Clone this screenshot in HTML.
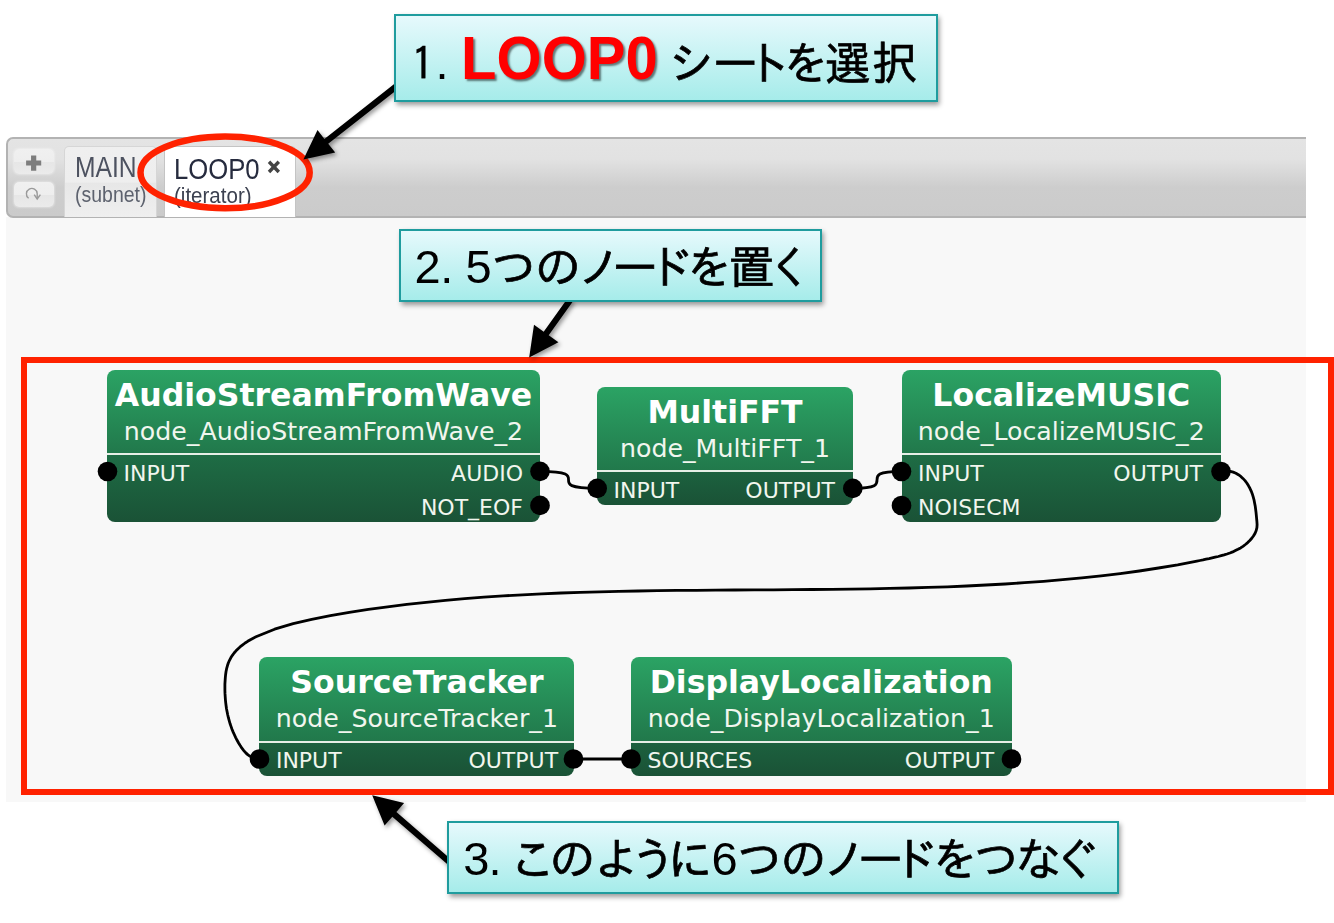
<!DOCTYPE html>
<html lang="ja">
<head>
<meta charset="utf-8">
<title>LOOP0 シート</title>
<style>
*{box-sizing:border-box;margin:0;padding:0}
html,body{width:1334px;height:923px;overflow:hidden;background:#fff}
body{position:relative;font-family:"Liberation Sans","Noto Sans CJK JP",sans-serif}
.abs{position:absolute}
#canvas{left:6px;top:217px;width:1300px;height:585px;background:#f8f8f8}
#tabbar{left:6px;top:137px;width:1300px;height:81px;border:2px solid #b3b3b3;border-right:none;border-radius:7px 0 0 7px;
 background:linear-gradient(#e4e4e4 0%,#e2e2e2 26%,#cdcdcd 63%,#cbcbcb 100%)}
.btn{left:14px;width:40px;height:25px;border-radius:5px;background:linear-gradient(#f0f0f0 0%,#eeeeee 50%,#e6e6e6 52%,#ebebeb 100%);
 box-shadow:0 0 2px 1px rgba(255,255,255,.35)}
.tab{top:146px;height:71px;border-radius:5px 5px 0 0}
#tab1{left:64px;width:93px;background:linear-gradient(#efefef 0%,#eeeeee 50%,#e7e7e7 52%,#efefef 100%);border:1px solid #d6d6d6;border-bottom:none}
#tab2{left:164px;width:132px;background:#fff;border:1px solid #c4c4c4;border-bottom:none}
.tt{white-space:nowrap;transform-origin:0 0;line-height:1}
.node{border-radius:8px;background:linear-gradient(#2ba364 0,#21784b var(--s,84px),var(--b,#1e6d45) var(--s,84px),#1a5236 100%);color:#fff;font-family:"DejaVu Sans","Liberation Sans",sans-serif}
.node .t{position:absolute;left:0;right:0;text-align:center;font-weight:bold;font-size:31.55px;line-height:1;white-space:nowrap;top:9.5px}
.node .s{position:absolute;left:0;right:0;text-align:center;font-size:25.25px;line-height:1;white-space:nowrap;top:48.5px;color:#f1f6ee}
.node .sep{position:absolute;left:0;right:0;top:83px;height:1.6px;background:#e6efe6}
.node .p{position:absolute;font-size:22px;line-height:1;white-space:nowrap;color:#f1f6ee}
.node .l{left:16.5px}
.node .r{right:18px}
.call{border:2px solid #1f9c9e;background:linear-gradient(#e6f9fc 0%,#a6ecea 100%);box-shadow:1.5px 3px 5px rgba(0,0,0,.4);white-space:nowrap;color:#000}
.call .ln{position:absolute;left:0;will-change:transform;font:47px/47px "Liberation Sans","Noto Sans CJK JP",sans-serif;white-space:nowrap}
.call .ln span{line-height:0}
.call .j{font-family:"IPAGothic","Noto Sans CJK JP",sans-serif;font-size:46px;-webkit-text-stroke:.7px #000;position:relative;top:.5px}
.call .big{display:inline-block;font-size:58px;font-weight:bold;color:#ff0000;text-shadow:2px 2px 2px rgba(0,0,0,.5);transform-origin:0 20.1px;transform:scaleY(1.053)}
svg{position:absolute;left:0;top:0}
</style>
</head>
<body>
<div id="canvas" class="abs"></div>
<div id="tabbar" class="abs"></div>
<div class="abs btn" style="top:149px"></div>
<div class="abs btn" style="top:182px"></div>
<div id="tab1" class="abs tab"></div>
<div id="tab2" class="abs tab"></div>
<div class="abs tt" style="left:74.5px;top:152.3px;font-size:30px;color:#4d5260;transform:scaleX(.82)">MAIN</div>
<div class="abs tt" style="left:74.5px;top:183.5px;font-size:22px;color:#5d626e;transform:scaleX(.885)">(subnet)</div>
<div class="abs tt" style="left:173.5px;top:153.8px;font-size:30px;color:#262b3e;transform:scaleX(.855)">LOOP0</div>
<div class="abs tt" style="left:174px;top:185.3px;font-size:22px;color:#3c4150;transform:scaleX(.933)">(iterator)</div>
<svg width="60" height="80" viewBox="0 0 60 80" style="left:0;top:140px">
 <path d="M26.1 23 H41.2 M33.65 15.4 V30.7" stroke="#7d7d7d" stroke-width="5.2" fill="none"/>
 <path d="M28.6 58.2 A5.4 5.4 0 1 1 37.2 53.6 V58.6" stroke="#9a9a9a" stroke-width="1.4" fill="none"/>
 <path d="M34.2 54.6 L37.2 59 L40.4 54.6" stroke="#9a9a9a" stroke-width="1.4" fill="none"/>
</svg>
<svg width="20" height="20" viewBox="0 0 20 20" style="left:264px;top:157px">
 <path d="M5 4.8 L14.8 15 M14.8 4.8 L5 15" stroke="#444" stroke-width="3.4" fill="none"/>
</svg>

<!-- nodes -->
<div class="abs node" style="left:107px;top:370px;width:433px;height:152px">
 <div class="t">AudioStreamFromWave</div><div class="s">node_AudioStreamFromWave_2</div><div class="sep"></div>
 <div class="p l" style="top:92.5px">INPUT</div><div class="p r" style="top:92.5px;right:17px">AUDIO</div><div class="p r" style="top:126.5px;right:17px">NOT_EOF</div>
</div>
<div class="abs node" style="left:597px;top:387px;width:256px;height:118px;--b:#1c623f">
 <div class="t">MultiFFT</div><div class="s">node_MultiFFT_1</div><div class="sep"></div>
 <div class="p l" style="top:92.5px">INPUT</div><div class="p r" style="top:92.5px">OUTPUT</div>
</div>
<div class="abs node" style="left:901.5px;top:370px;width:319.5px;height:152px">
 <div class="t">LocalizeMUSIC</div><div class="s">node_LocalizeMUSIC_2</div><div class="sep"></div>
 <div class="p l" style="top:92.5px">INPUT</div><div class="p r" style="top:92.5px">OUTPUT</div><div class="p l" style="top:126.5px">NOISECM</div>
</div>
<div class="abs node" style="left:259.4px;top:657px;width:315px;height:119px;--b:#1c623f">
 <div class="t">SourceTracker</div><div class="s">node_SourceTracker_1</div><div class="sep" style="top:84px"></div>
 <div class="p l" style="top:92.5px">INPUT</div><div class="p r" style="top:92.5px;right:16.3px">OUTPUT</div>
</div>
<div class="abs node" style="left:631px;top:657px;width:380.5px;height:119px;--b:#1c623f">
 <div class="t">DisplayLocalization</div><div class="s">node_DisplayLocalization_1</div><div class="sep" style="top:84px"></div>
 <div class="p l" style="top:92.5px">SOURCES</div><div class="p r" style="top:92.5px;right:17.2px">OUTPUT</div>
</div>

<svg width="1334" height="923" viewBox="0 0 1334 923">
 <!-- wires -->
 <g fill="none" stroke="#000" stroke-width="2.8" stroke-linecap="round">
  <path d="M540 471.3 C598 471.3 539 488.3 597.2 488.3"/>
  <path d="M852.7 488.3 C902 488.3 852 471.3 901.6 471.3"/>
  <path stroke-linejoin="round" stroke-width="2.8" d="M1220.8 471.2 L1224.1 470.8 L1227.3 470.9 L1230.3 471.3 L1233.2 472.1 L1235.9 473.2 L1238.4 474.7 L1240.8 476.4 L1242.9 478.4 L1245.0 480.6 L1246.8 483.0 L1248.4 485.6 L1249.9 488.3 L1251.2 491.1 L1252.3 493.9 L1253.2 496.9 L1254.0 499.8 L1254.6 502.9 L1255.2 505.9 L1255.6 509.0 L1256.0 512.1 L1256.3 515.2 L1256.6 518.3 L1256.9 521.5 L1257.1 524.6 L1256.9 527.6 L1256.2 530.5 L1255.1 533.2 L1253.6 535.8 L1251.8 538.3 L1249.8 540.5 L1247.7 542.6 L1245.4 544.5 L1243.0 546.3 L1240.6 547.9 L1238.0 549.3 L1235.4 550.6 L1232.7 551.9 L1229.9 553.0 L1227.0 554.0 L1224.1 554.9 L1221.2 555.7 L1218.2 556.5 L1215.2 557.2 L1212.1 557.9 L1209.1 558.6 L1206.1 559.2 L1203.0 559.9 L1200.0 560.5 L1196.9 561.1 L1177.7 564.8 L1158.5 568.0 L1139.3 571.0 L1120.2 573.6 L1101.1 575.9 L1081.9 577.9 L1062.8 579.7 L1043.6 581.3 L1024.4 582.7 L1005.2 584.0 L986.0 585.0 L966.7 586.0 L947.4 586.8 L928.1 587.4 L908.8 588.0 L889.5 588.4 L870.2 588.8 L850.8 589.1 L831.5 589.3 L812.1 589.5 L792.8 589.7 L773.4 589.8 L754.1 589.9 L734.7 590.0 L715.4 590.1 L696.0 590.3 L676.7 590.4 L657.4 590.7 L638.1 591.0 L618.8 591.3 L599.5 591.8 L580.3 592.3 L561.0 593.0 L541.7 593.8 L522.5 594.8 L503.2 595.9 L483.9 597.2 L464.7 598.7 L445.4 600.4 L426.1 602.3 L406.8 604.4 L387.6 606.8 L368.4 609.4 L349.3 612.4 L330.4 615.7 L311.7 619.4 L293.2 623.6 L274.6 629.2 L256.0 636.8 L253.2 638.2 L250.4 639.7 L247.7 641.3 L245.1 643.0 L242.7 644.8 L240.3 646.7 L238.1 648.7 L236.0 650.8 L234.1 653.0 L232.4 655.3 L230.8 657.8 L229.5 660.3 L228.3 663.0 L227.4 665.8 L226.6 668.7 L226.0 671.7 L225.6 674.7 L225.3 677.8 L225.1 680.9 L224.9 684.1 L224.9 687.2 L224.9 690.3 L225.0 693.4 L225.2 696.5 L225.4 699.6 L225.7 702.6 L226.1 705.7 L226.5 708.7 L227.1 711.7 L227.7 714.7 L228.4 717.7 L229.2 720.6 L230.0 723.5 L231.0 726.4 L232.0 729.2 L233.2 732.1 L234.4 734.8 L235.7 737.6 L237.1 740.3 L238.6 743.0 L240.2 745.6 L241.9 748.2 L243.8 750.6 L245.8 752.9 L248.0 754.9 L250.5 756.6 L253.2 757.9 L256.2 758.8 L259.5 759.1"/>
  <path d="M573.5 759 L631 759"/>
 </g>
 <g fill="#000">
  <circle cx="107.5" cy="471.5" r="9.8"/>
  <circle cx="540" cy="471.4" r="9.8"/>
  <circle cx="540" cy="505.4" r="9.8"/>
  <circle cx="597.2" cy="488.4" r="9.8"/>
  <circle cx="852.8" cy="488.4" r="9.8"/>
  <circle cx="901.5" cy="471.5" r="9.8"/>
  <circle cx="901.5" cy="505.5" r="9.8"/>
  <circle cx="1221" cy="471.5" r="9.8"/>
  <circle cx="259.5" cy="759" r="9.8"/>
  <circle cx="573.5" cy="759" r="9.8"/>
  <circle cx="631" cy="759" r="9.8"/>
  <circle cx="1011.5" cy="759" r="9.8"/>
 </g>
 <!-- red frame -->
 <rect x="24" y="360" width="1307" height="432" fill="none" stroke="#ff2200" stroke-width="6"/>
 <ellipse cx="225.1" cy="172.4" rx="84.6" ry="35.9" fill="none" stroke="#ff2200" stroke-width="6.5"/>
 <!-- arrows -->
 <defs><filter id="sh" x="-20%" y="-20%" width="150%" height="150%"><feDropShadow dx="2" dy="2.5" stdDeviation="2" flood-color="#000" flood-opacity=".4"/></filter></defs>
 <g fill="#000" filter="url(#sh)">
  <path d="M396.1 82.6 L324.4 138.9 L317.5 130.1 L303.4 159.4 L335.2 152.6 L328.2 143.8 L399.9 87.4Z"/>
  <path d="M568.0 297.7 L543.7 331.7 L534.0 324.8 L529.2 357.4 L558.4 342.2 L548.7 335.3 L573.0 301.3Z"/>
  <path d="M452.0 860.2 L396.4 812.0 L404.1 803.1 L372.2 795.2 L384.6 825.6 L392.3 816.7 L448.0 864.8Z"/>
 </g>
</svg>

<!-- callouts -->
<div class="abs call" style="left:394px;top:14px;width:544px;height:87.5px"><div class="ln" style="top:23.1px"><span class="j" style="margin-left:15.2px;-webkit-text-stroke-width:.3px">1</span><span style="margin-left:1.3px">.</span> <span class="big" style="margin-left:-0.5px">LOOP0</span> <span class="j" style="margin-left:-2.1px">シ</span><span class="j" style="margin-left:-2.1px">ー</span><span class="j" style="margin-left:-12.8px">ト</span><span class="j" style="margin-left:-9.0px">を</span><span class="j" style="margin-left:-4.1px">選</span><span class="j" style="margin-left:1.0px">択</span></div></div>
<div class="abs call" style="left:399px;top:229px;width:422.5px;height:72.5px"><div class="ln" style="top:12.3px"><span style="margin-left:13.4px">2</span><span style="margin-left:-0.3px">.</span> <span style="margin-left:-0.8px">5</span><span class="j" style="margin-left:-0.8px">つ</span><span class="j" style="margin-left:-2.2px">の</span><span class="j" style="margin-left:-4.7px">ノ</span><span class="j" style="margin-left:-9.8px">ー</span><span class="j" style="margin-left:-11.6px">ド</span><span class="j" style="margin-left:-6.3px">を</span><span class="j" style="margin-left:-3.8px">置</span><span class="j" style="margin-left:-7.6px">く</span></div></div>
<div class="abs call" style="left:447px;top:821px;width:672px;height:72.5px"><div class="ln" style="top:11.8px"><span style="margin-left:14.3px">3</span><span style="margin-left:-0.9px">.</span> <span class="j" style="margin-left:-4.9px">こ</span><span class="j" style="margin-left:-6.5px">の</span><span class="j" style="margin-left:-1.2px">よ</span><span class="j" style="margin-left:-9.6px">う</span><span class="j" style="margin-left:-9.6px">に</span><span style="margin-left:-1.5px">6</span><span class="j" style="margin-left:-0.9px">つ</span><span class="j" style="margin-left:-2.3px">の</span><span class="j" style="margin-left:-5.1px">ノ</span><span class="j" style="margin-left:-9.6px">ー</span><span class="j" style="margin-left:-12.5px">ド</span><span class="j" style="margin-left:-5.2px">を</span><span class="j" style="margin-left:-4.5px">つ</span><span class="j" style="margin-left:-4.4px">な</span><span class="j" style="margin-left:-8.8px">ぐ</span></div></div>
</body>
</html>
